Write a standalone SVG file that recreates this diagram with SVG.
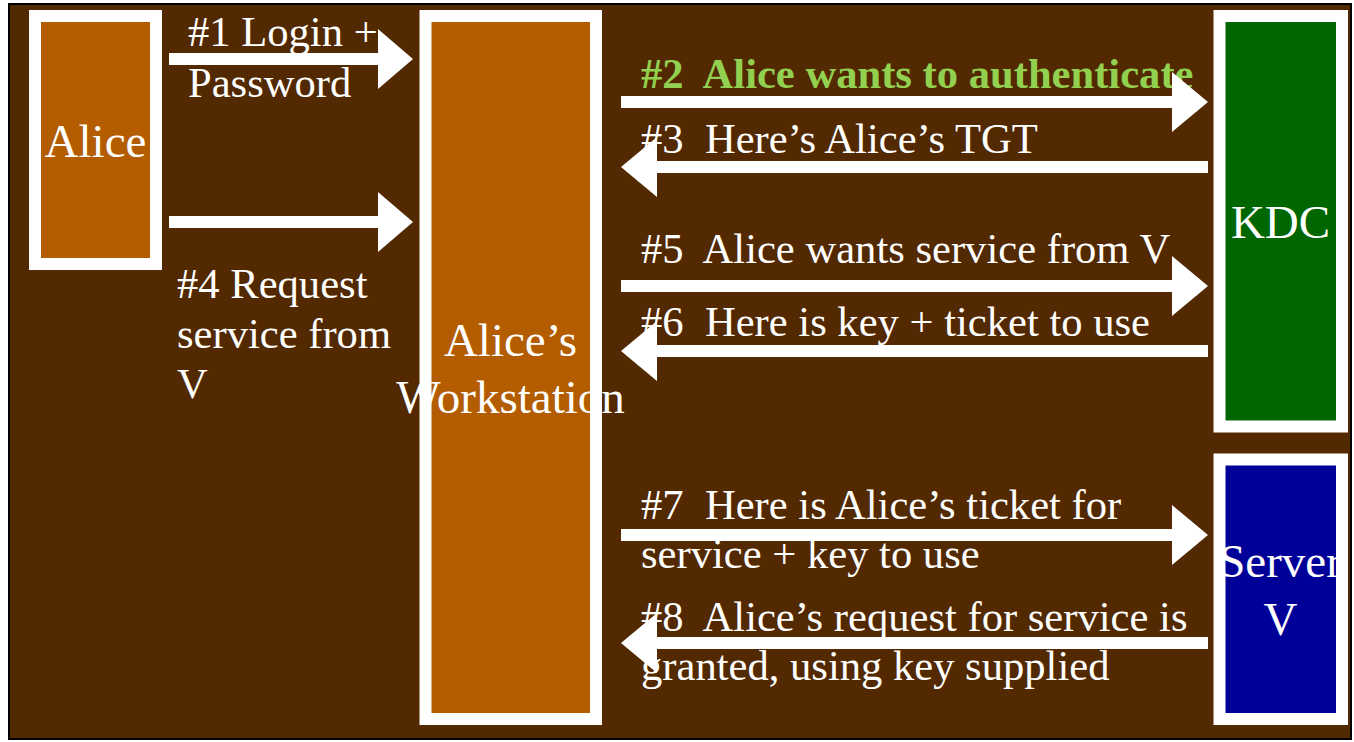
<svg xmlns="http://www.w3.org/2000/svg" width="1354" height="742" viewBox="0 0 1354 742">
  <style>
    .frame { fill: #522900; stroke: #000000; stroke-width: 2; }
    .box { stroke: #ffffff; stroke-width: 12; }
    .person { fill: #b35c00; }
    .kdc { fill: #006600; }
    .server { fill: #000099; }
    .node-label { font-family: "Liberation Serif", "Times New Roman", serif; font-size: 47px; fill: #ffffff; text-anchor: middle; }
    .msg { font-family: "Liberation Serif", "Times New Roman", serif; font-size: 42.6px; fill: #ffffff; white-space: pre; }
    .msg-hi { font-weight: bold; fill: #92d050; }
    .arrow { fill: #ffffff; }
  </style>

  <!-- slide background -->
  <rect class="frame" x="9" y="4" width="1342" height="735"/>

  <!-- participants -->
  <g id="alice">
    <rect class="box person" x="35" y="16" width="121" height="248"/>
    <text class="node-label" x="95.5" y="157">Alice</text>
  </g>

  <g id="workstation">
    <rect class="box person" x="425.5" y="16" width="170.5" height="703"/>
    <text class="node-label" x="510.5" y="356">Alice’s</text>
    <text class="node-label" x="510.5" y="413">Workstation</text>
  </g>

  <g id="kdc">
    <rect class="box kdc" x="1219.5" y="16" width="122.5" height="410.5"/>
    <text class="node-label" x="1280.5" y="238">KDC</text>
  </g>

  <g id="server-v">
    <rect class="box server" x="1219.5" y="459.5" width="122.5" height="259.5"/>
    <text class="node-label" x="1280.5" y="577">Server</text>
    <text class="node-label" x="1280.5" y="635">V</text>
  </g>

  <!-- message labels -->
  <g id="labels">
    <text class="msg" x="188" y="46">#1 Login +</text>
    <text class="msg" x="188" y="97">Password</text>
    <text class="msg" x="177" y="298">#4 Request</text>
    <text class="msg" x="177" y="348">service from</text>
    <text class="msg" x="177" y="398">V</text>
    <text class="msg msg-hi" x="641" y="88">#2  Alice wants to authenticate</text>
    <text class="msg" x="641" y="153">#3  Here’s Alice’s TGT</text>
    <text class="msg" x="641" y="263">#5  Alice wants service from V</text>
    <text class="msg" x="641" y="336">#6  Here is key + ticket to use</text>
    <text class="msg" x="641" y="519">#7  Here is Alice’s ticket for</text>
    <text class="msg" x="641" y="568">service + key to use</text>
    <text class="msg" x="641" y="631">#8  Alice’s request for service is</text>
    <text class="msg" x="641" y="680">granted, using key supplied</text>
  </g>

  <!-- connectors: block arrows -->
  <g id="connectors">
    <!-- #1 Alice -> workstation -->
    <polygon class="arrow" points="169,53 378,53 378,29 413,59 378,89 378,65 169,65"/>
    <!-- #4 Alice -> workstation -->
    <polygon class="arrow" points="169,216 378,216 378,192 413,222 378,252 378,228 169,228"/>
    <!-- #2 workstation -> KDC -->
    <polygon class="arrow" points="621,96 1172,96 1172,72 1208,102 1172,132 1172,108 621,108"/>
    <!-- #3 KDC -> workstation -->
    <polygon class="arrow" points="1208,161 657,161 657,137 621,167 657,197 657,173 1208,173"/>
    <!-- #5 workstation -> KDC -->
    <polygon class="arrow" points="621,280 1172,280 1172,256 1208,286 1172,316 1172,292 621,292"/>
    <!-- #6 KDC -> workstation -->
    <polygon class="arrow" points="1208,345 657,345 657,321 621,351 657,381 657,357 1208,357"/>
    <!-- #7 workstation -> server V -->
    <polygon class="arrow" points="621,529 1172,529 1172,505 1208,535 1172,565 1172,541 621,541"/>
    <!-- #8 server V -> workstation -->
    <polygon class="arrow" points="1208,637 657,637 657,613 621,643 657,673 657,649 1208,649"/>
  </g>
</svg>
